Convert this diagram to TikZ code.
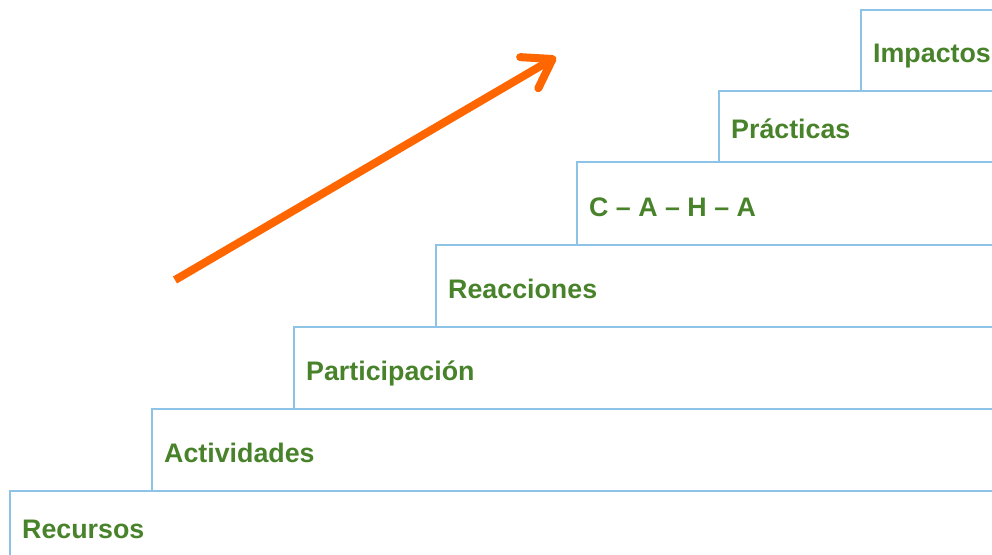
\documentclass[tikz,border=0pt]{standalone}
\usepackage{fontspec}
\setmainfont{Liberation Sans}
\usetikzlibrary{arrows.meta}
\definecolor{stairblue}{RGB}{141,195,230}
\definecolor{labelgreen}{RGB}{72,130,42}
\definecolor{arroworange}{RGB}{255,102,0}

\tikzset{
    stair line/.style={
        draw=stairblue,line width=1.5pt
    },
    stair label/.style={
        anchor=base west,inner sep=0pt,
        text=labelgreen,
        font=\fontsize{26.8}{30}\selectfont\bfseries
    }
}

\begin{document}
\begin{tikzpicture}[x=1pt,y=-1pt]
        \useasboundingbox (0,0) rectangle (992,554);
        \clip (0,0) rectangle (992,554);
        \foreach \x/\yt/\yb/\yl/\name/\lbl in {10/491/570/538/recursos/Recursos,
                152/409/491/462/actividades/Actividades,
                294/327/409/380/participacion/Participación,
                436/245/327/298/reacciones/Reacciones,
                577/162/245/216/caha/C – A – H – A,
                719/91/162/138/practicas/Prácticas,
                861/10/91/62/impactos/Impactos}
        {
            \draw[stair line] (\x,\yb) -- (\x,\yt) -- (1000,\yt);
            \node[stair label] (\name) at (\x+12,\yl) {\lbl};
        }
        \coordinate (tail) at (175,280);
        \coordinate (tip) at (556,57);
        \draw[arroworange, line width=8pt, -{Straight Barb[round,length=27pt,width=36pt]}] (tail) -- (tip);
    \end{tikzpicture}
\end{document}
